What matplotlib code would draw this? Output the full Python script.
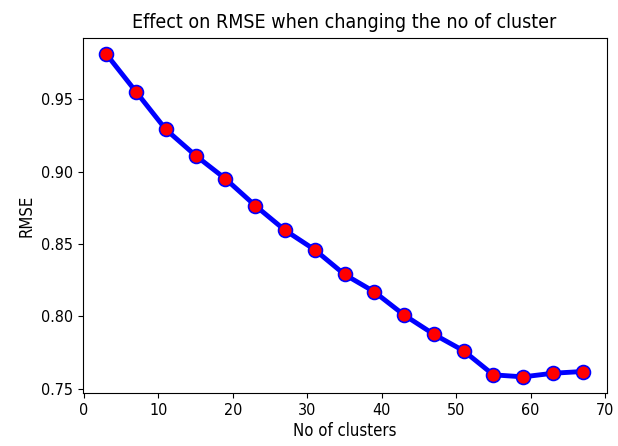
import matplotlib
matplotlib.use("Agg")
import matplotlib.pyplot as plt

clusters = [3, 7, 11, 15, 19, 23, 27, 31, 35, 39, 43, 47, 51, 55, 59, 63, 67]
rmse = [0.981, 0.955, 0.929, 0.911, 0.895, 0.8765, 0.8595, 0.846, 0.829, 0.817,
        0.801, 0.7877, 0.7763, 0.7597, 0.7583, 0.7608, 0.762]

plt.rcParams['font.family'] = ['DejaVu Sans']
plt.rcParams['font.stretch'] = 'condensed'

fig = plt.figure(figsize=(6.18, 4.46), dpi=100)
ax = fig.add_axes([82.5/618, 1-393/446, (606.5-82.5)/618, (393-38)/446])
ax.plot(clusters, rmse, color='blue', linewidth=3.5, marker='o',
        markersize=10, markerfacecolor='red', markeredgecolor='blue',
        markeredgewidth=1.2)
ax.set_title("Effect on RMSE when changing the no of cluster", fontsize=14, pad=7)
ax.set_xlabel("No of clusters", fontsize=12, labelpad=3)
ax.set_ylabel("RMSE", fontsize=12)
ax.tick_params(labelsize=11.5)
fig.savefig("out.png", dpi=100)
